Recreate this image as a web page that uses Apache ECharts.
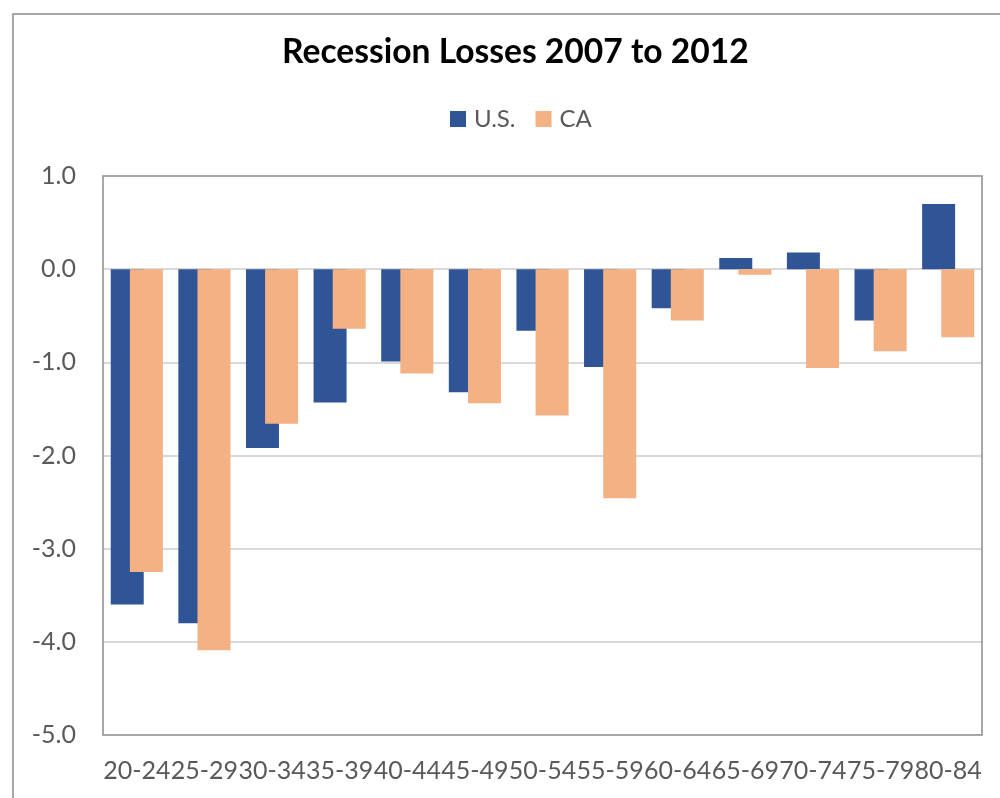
<!DOCTYPE html>
<html>
<head>
<meta charset="utf-8">
<title>Recession Losses 2007 to 2012</title>
<script src="https://cdn.jsdelivr.net/npm/echarts@6/dist/echarts.min.js"></script>
<style>
  html, body { margin: 0; padding: 0; background: #ffffff; }
  #chart { width: 1000px; height: 798px; }
</style>
</head>
<body>
<div id="chart"></div>
<script>
// Age groups and employment change (percentage points), 2007 to 2012
const ageGroups = ['20-24', '25-29', '30-34', '35-39', '40-44', '45-49', '50-54',
                   '55-59', '60-64', '65-69', '70-74', '75-79', '80-84'];
const usValues = [-3.60, -3.80, -1.92, -1.43, -0.99, -1.32, -0.66,
                  -1.05, -0.42, 0.12, 0.18, -0.55, 0.70];
const caValues = [-3.25, -4.09, -1.66, -0.64, -1.12, -1.44, -1.57,
                  -2.46, -0.55, -0.06, -1.06, -0.88, -0.73];
const yTicks = { min: -5, max: 1, step: 1 };

const FONT = 'Lato, "Open Sans", sans-serif';
const TEXT_GREY = '#595959';

const chart = echarts.init(document.getElementById('chart'), null, { renderer: 'canvas' });

chart.setOption({
  backgroundColor: '#ffffff',
  animation: false,
  title: {
    text: 'Recession Losses 2007 to 2012',
    left: 277,
    top: 30,
    textStyle: { fontFamily: FONT, fontWeight: 'bold', fontSize: 33.6, color: '#000000' }
  },
  legend: {
    top: 102,
    left: 445,
    itemWidth: 16,
    itemHeight: 16,
    itemGap: 20,
    icon: 'rect',
    textStyle: { fontFamily: FONT, fontSize: 24, color: TEXT_GREY, padding: [0, 0, 0, 3] }
  },
  graphic: [{
    // outer chart frame
    type: 'rect',
    shape: { x: 13, y: 14, width: 1000, height: 800 },
    style: { fill: 'none', stroke: '#8a8a8a', lineWidth: 1.5 },
    silent: true,
    z: 100
  }],
  grid: {
    left: 103,
    right: 18,
    top: 176,
    bottom: 63,
    show: true,
    borderColor: '#8c8c8c',
    borderWidth: 1.5,
    backgroundColor: 'transparent',
    z: 3
  },
  xAxis: {
    type: 'category',
    data: ageGroups,
    axisLine: { show: false },
    axisTick: { show: false },
    axisLabel: {
      interval: 0,
      margin: 23,
      fontFamily: FONT,
      fontSize: 25,
      color: TEXT_GREY
    },
    splitLine: { show: false }
  },
  yAxis: {
    type: 'value',
    min: yTicks.min,
    max: yTicks.max,
    interval: yTicks.step,
    axisLine: { show: false },
    axisTick: { show: false },
    axisLabel: {
      margin: 27,
      fontFamily: FONT,
      fontSize: 25,
      color: TEXT_GREY,
      formatter: v => v.toFixed(1)
    },
    splitLine: {
      show: true,
      showMinLine: false,
      showMaxLine: false,
      lineStyle: { color: '#d9d9d9', width: 2 }
    }
  },
  series: [
    {
      name: 'U.S.',
      type: 'bar',
      data: usValues,
      barWidth: 33,
      barGap: '-42%',
      itemStyle: { color: '#2f5597' }
    },
    {
      name: 'CA',
      type: 'bar',
      data: caValues,
      barWidth: 33,
      barGap: '-42%',
      itemStyle: { color: '#f4b183' }
    }
  ]
});
</script>
</body>
</html>
